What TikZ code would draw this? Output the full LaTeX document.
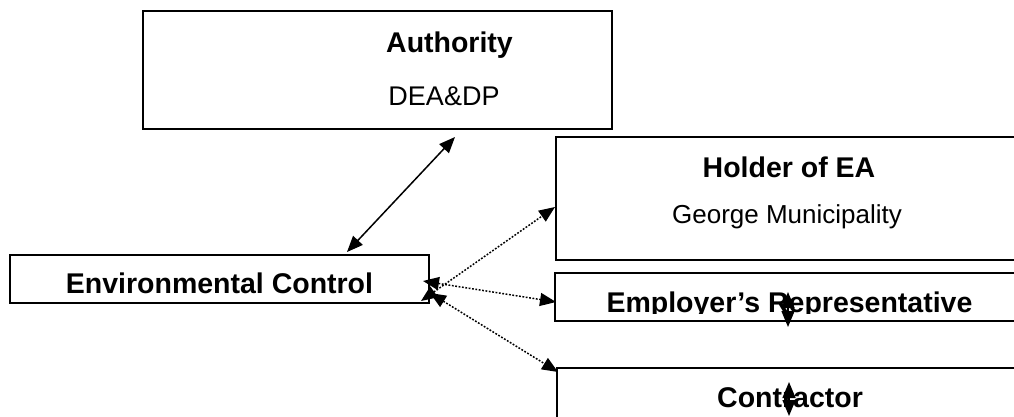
\documentclass[tikz,border=0pt]{standalone}
\usepackage{fontspec}
\setmainfont{Liberation Sans}
\usetikzlibrary{arrows.meta}
\tikzset{
  box/.style={draw, line width=1.6pt, anchor=north west, inner sep=0pt, outer sep=0pt},
  ttl/.style={font=\bfseries\fontsize{28.5}{34}\selectfont, anchor=base, inner sep=0pt},
  sub/.style={font=\fontsize{27}{32}\selectfont, anchor=base, inner sep=0pt},
  subsmall/.style={font=\fontsize{26}{31}\selectfont, anchor=base, inner sep=0pt},
  link/.style={line width=1.5pt, {Triangle[length=16pt,width=13pt]}-{Triangle[length=16pt,width=13pt]}},
  dotlink/.style={link, dash pattern=on 1.8pt off 1.6pt},
}
\begin{document}
\begin{tikzpicture}[x=1pt,y=-1pt]
\useasboundingbox (0,0) rectangle (1014,417);
\clip (0,0) rectangle (1014,417);
% boxes
\node[box, minimum width=469pt, minimum height=118pt] (auth) at (143,11) {};
\node[box, minimum width=470pt, minimum height=123pt] (holder) at (556,137) {};
\node[box, minimum width=419pt, minimum height=48pt] (env) at (10,255) {};
\node[box, minimum width=470pt, minimum height=48pt] (emp) at (555,273) {};
\node[box, minimum width=470pt, minimum height=80pt] (con) at (557,368) {};
% texts
\node[ttl] (tauth) at (449.5,53) {Authority};
\node[sub] (tdea) at (444,106) {DEA\&DP};
\node[ttl] (tholder) at (789,177) {Holder of EA};
\node[subsmall] (tgeorge) at (787,223) {George Municipality};
\node[ttl] (tenv) at (219.5,293) {Environmental Control};
\begin{scope}
\clip (555,273) rectangle (1024,313);
\node[ttl] (temp) at (789.5,312) {Employer’s Representative};
\end{scope}
\node[ttl] (tcon) at (790,407) {Contractor};
% connector end points
\coordinate (a1) at (455,137);
\coordinate (a2) at (347,252);
\coordinate (h1) at (555,207);
\coordinate (h2) at (421,301);
\coordinate (e1) at (556,302);
\coordinate (e2) at (423,281);
\coordinate (c1) at (558,372);
\coordinate (c2) at (430,293);
\coordinate (v1) at (788,292);
\coordinate (v2) at (788,327);
\coordinate (w1) at (789,382);
\coordinate (w2) at (789,416);
% connectors
\draw[link] (a2) -- (a1);
\draw[dotlink] (h2) -- (h1);
\draw[dotlink] (e2) -- (e1);
\draw[dotlink] (c2) -- (c1);
\draw[link] (v1) -- (v2);
\draw[link] (w1) -- (w2);
\end{tikzpicture}
\end{document}
